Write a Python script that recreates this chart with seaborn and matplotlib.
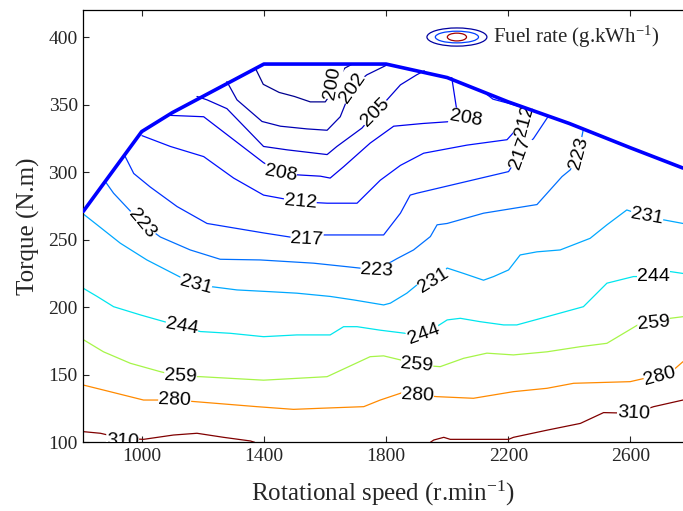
import matplotlib
matplotlib.use('Agg')
import matplotlib.pyplot as plt
import seaborn as sns
from matplotlib.patches import Ellipse

# full-load torque curve (thick blue outline)
wot_rpm = [809, 1000, 1100, 1200, 1300, 1400, 1800, 2000, 2200, 2400, 2600, 2772]
wot_tq = [271, 330, 344, 356, 368, 380, 380, 370, 352, 336, 318, 303]

# fuel rate iso-lines (rpm, N.m)
c200_rpm = [1372, 1398, 1450, 1500, 1552, 1601, 1625, 1645, 1665, 1690]
c200_tq = [377, 365, 359, 356, 352, 352, 360, 370, 377, 380]

c202_rpm = [1279, 1312, 1394, 1454, 1541, 1607, 1650, 1666, 1688, 1737, 1800]
c202_tq = [367, 353.5, 337.5, 334, 332, 331, 341, 350, 363, 372, 379]

c205_rpm = [1181, 1214, 1279, 1399, 1476, 1607, 1639, 1721, 1765, 1803, 1847, 1900, 1925]
c205_tq = [356, 353.5, 347, 319, 316.5, 313, 319, 332.6, 344, 353.5, 364.6, 372, 375]

c208_rpm = [1094, 1203, 1301, 1399, 1454, 1508, 1585, 1617, 1661, 1748, 1825, 1920, 2016, 2060, 2030, 2015]
c208_tq = [342, 341, 324, 307, 300, 298, 297, 295.6, 304, 321.5, 334, 336, 337.5, 339, 348, 370]

c212_rpm = [1001, 1094, 1203, 1301, 1399, 1519, 1607, 1705, 1781, 1847, 1923, 2065, 2196, 2256, 2245, 2200, 2150, 2130]
c212_tq = [327, 319, 311.5, 295.6, 283, 278, 277, 277, 294, 305, 314, 320, 324, 339, 348, 351, 354, 357.5]

c217_rpm = [945, 974, 1028, 1116, 1214, 1399, 1541, 1596, 1792, 1847, 1879, 1901, 2201, 2239, 2283, 2330]
c217_tq = [312, 299, 289, 274.5, 262, 255, 250, 253.5, 253.5, 269.6, 283, 284.4, 300.4, 314, 325, 341]

c223_rpm = [881, 908, 1001, 1061, 1159, 1257, 1388, 1563, 1672, 1770, 1836, 1890, 1945, 1967, 2000,
            2119, 2294, 2376, 2403, 2430, 2446]
c223_tq = [293, 284.4, 262, 252, 242.4, 235.5, 235, 232.6, 230, 227.6, 236, 242.4, 252.3, 261, 262,
           269.6, 276, 296.7, 301.7, 314, 332]

c231_rpm = [809, 854, 930, 1017, 1176, 1236, 1312, 1421, 1508, 1617, 1694, 1792, 1814, 1868, 1901,
            1958, 2000, 2054, 2119, 2152, 2201, 2239, 2294, 2370, 2468, 2523, 2588, 2654, 2708, 2772]
c231_tq = [269, 261, 247.4, 235, 216.5, 215, 212.8, 211.5, 210.4, 208, 205.4, 201.7, 203, 210.4, 216.5,
           220, 229, 225, 220, 222.7, 227.6, 238.7, 241, 242.4, 251, 261, 272, 267, 264.7, 262]

c244_rpm = [809, 854, 908, 996, 1132, 1192, 1290, 1399, 1508, 1617, 1661, 1705, 1781, 1863, 1923,
            2000, 2043, 2108, 2185, 2228, 2327, 2446, 2523, 2610, 2676, 2730, 2772]
c244_tq = [214, 208, 200.4, 194.3, 185.6, 182, 180.7, 178.2, 179.5, 179.5, 185.6, 185.6, 183, 180.7, 179.5,
           190.6, 191.8, 189.3, 186.9, 186.9, 193, 200.4, 217.8, 222.7, 222.7, 226.4, 225]

c259_rpm = [809, 875, 963, 1061, 1127, 1192, 1399, 1607, 1748, 1792, 1847, 1901, 1977, 2054, 2130,
            2217, 2327, 2436, 2523, 2632, 2676, 2730, 2772]
c259_tq = [176, 167, 158.5, 152.3, 148.6, 148.6, 146, 148.6, 163.4, 164, 161, 157.3, 156, 162.2, 166,
           164.7, 167, 170.8, 173.3, 188, 188, 191.8, 193]

c280_rpm = [809, 875, 1006, 1110, 1181, 1377, 1497, 1585, 1727, 1781, 1847, 1868, 1901, 1967, 2086,
            2217, 2327, 2414, 2599, 2697, 2741, 2772]
c280_tq = [142.4, 138.7, 131.3, 131.3, 130, 126.4, 124.4, 125.2, 126.4, 131.3, 136.3, 138.7, 135, 133.8, 132.6,
           137.5, 140, 143.7, 144.9, 150, 153.6, 159.7]

c310a_rpm = [809, 865, 935, 1006, 1104, 1181, 1268, 1356, 1370]
c310a_tq = [107.9, 106.7, 103, 102.2, 105.4, 106.7, 103.7, 101, 100]
c310b_rpm = [1945, 1956, 1989, 2010, 2201, 2217, 2327, 2436, 2512, 2610, 2676, 2772]
c310b_tq = [100, 101.7, 103.7, 102.2, 102.2, 103.7, 109, 114, 122, 121.5, 126.4, 131.3]

# inline labels: text, rpm, torque, angle
labels = [
    ('200', 1625, 366, 80), ('202', 1690, 362, 55), ('205', 1765, 344, 45),
    ('208', 1454, 299, -10), ('208', 2060, 340, -10),
    ('212', 1519, 278, -5), ('212', 2256, 338, 75),
    ('217', 1541, 250, -3), ('217', 2239, 314, 70),
    ('223', 1001, 262, -50), ('223', 1770, 227, -3), ('223', 2430, 314, 75),
    ('231', 1176, 216.5, -15), ('231', 1955, 220, 32), ('231', 2654, 267, -10),
    ('244', 1132, 186, -10), ('244', 1923, 180, 20), ('244', 2676, 223, 0),
    ('259', 1127, 148.6, -3), ('259', 1901, 157, -5), ('259', 2676, 188, 5),
    ('280', 1108, 131, -2), ('280', 1903, 134.5, -3), ('280', 2697, 149, 15),
    ('310', 937, 100.8, -3), ('310', 2610, 121.5, -3),
]

sns.set_style('ticks')
plt.rcParams['font.family'] = ['Liberation Serif', 'DejaVu Serif']
plt.rcParams['mathtext.fontset'] = 'custom'
plt.rcParams['mathtext.rm'] = 'Liberation Serif'
plt.rcParams['mathtext.default'] = 'regular'

fig = plt.figure(figsize=(6.83, 5.11), dpi=100)
ax = fig.add_axes([0.122, 0.1344, 0.878, 0.846])

curves = [
    (c200_rpm, c200_tq, '#00008f'), (c202_rpm, c202_tq, '#0000b4'),
    (c205_rpm, c205_tq, '#0000d2'), (c208_rpm, c208_tq, '#0000ee'),
    (c212_rpm, c212_tq, '#0010ff'), (c217_rpm, c217_tq, '#0030ff'),
    (c223_rpm, c223_tq, '#0070ff'), (c231_rpm, c231_tq, '#00a8ff'),
    (c244_rpm, c244_tq, '#00e6ee'), (c259_rpm, c259_tq, '#a6f548'),
    (c280_rpm, c280_tq, '#ff8a00'), (c310a_rpm, c310a_tq, '#800000'),
    (c310b_rpm, c310b_tq, '#800000'),
]
for r, t, col in curves:
    sns.lineplot(x=r, y=t, sort=False, estimator=None, color=col, lw=0.9, ax=ax)

sns.lineplot(x=wot_rpm, y=wot_tq, sort=False, estimator=None, color='#0000ff', lw=2.6, ax=ax, zorder=6)

for s, x, y, rot in labels:
    ax.text(x, y, s, rotation=rot, ha='center', va='center', rotation_mode='anchor',
            fontsize=14, family='Liberation Sans', color='black', clip_on=True, zorder=5,
            bbox=dict(fc='white', ec='none', pad=0.2))

# legend icon
ax.add_patch(Ellipse((0.623, 0.9375), 0.1, 0.042, transform=ax.transAxes, fill=False, ec='#0000a0', lw=0.9))
ax.add_patch(Ellipse((0.623, 0.9375), 0.072, 0.027, transform=ax.transAxes, fill=False, ec='#0040ff', lw=0.9))
ax.add_patch(Ellipse((0.623, 0.9375), 0.032, 0.018, transform=ax.transAxes, fill=False, ec='#a00000', lw=0.9))
ax.text(0.683, 0.9375, 'Fuel rate (g.kWh$^{-1}$)', transform=ax.transAxes, ha='left', va='center', fontsize=15)

ax.set_xlim(809, 2772)
ax.set_ylim(100, 420)
ax.set_xticks([1000, 1400, 1800, 2200, 2600])
ax.set_yticks([100, 150, 200, 250, 300, 350, 400])
ax.tick_params(direction='in', top=True, right=False, length=4, width=0.8, labelsize=14, pad=4)
for side in ['left', 'bottom', 'top']:
    ax.spines[side].set_linewidth(0.9)
    ax.spines[side].set_color('black')
ax.spines['right'].set_visible(False)
ax.set_xlabel('Rotational speed (r.min$^{-1}$)', fontsize=18, labelpad=10)
ax.set_ylabel('Torque (N.m)', fontsize=18, labelpad=6)

fig.savefig('out.png', dpi=100)
